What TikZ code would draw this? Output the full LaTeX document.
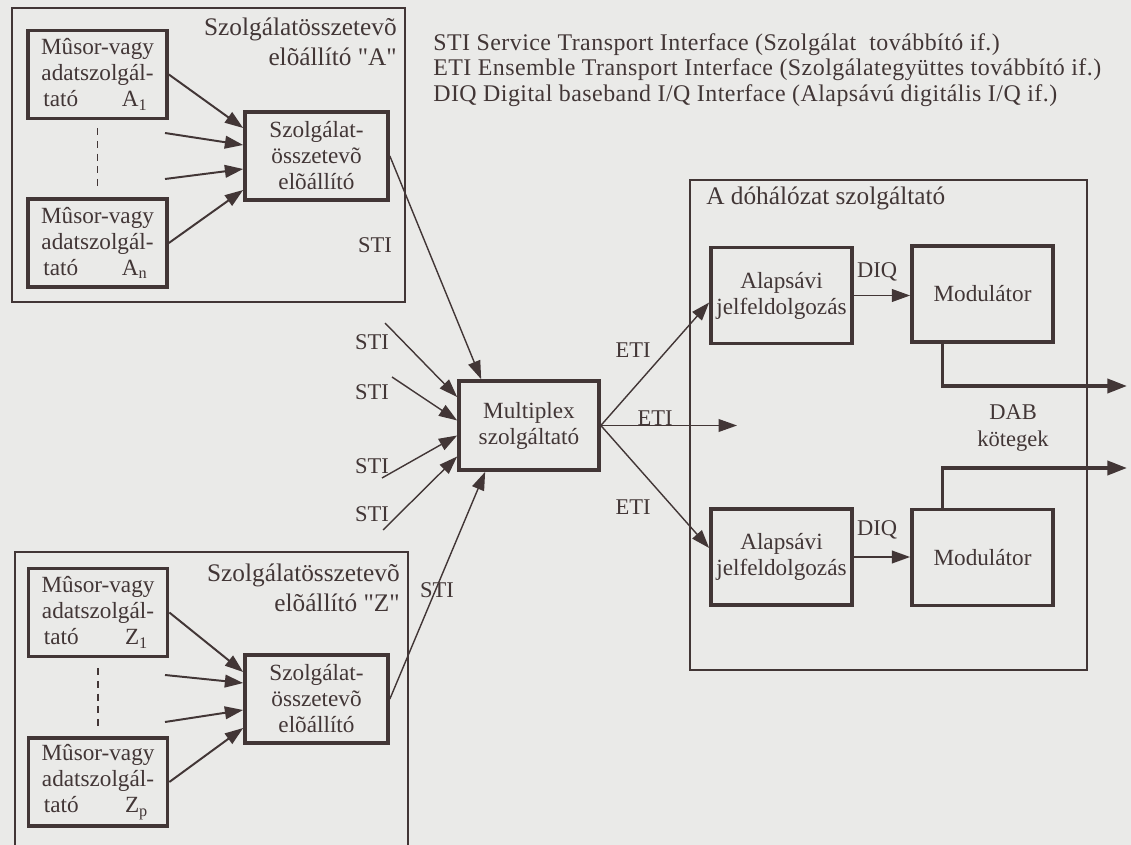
\documentclass[tikz,border=0pt]{standalone}
\usepackage{fontspec}
\setmainfont{Liberation Serif}[Ligatures=TeXOff]
\usetikzlibrary{calc,arrows.meta}
\definecolor{ink}{RGB}{66,54,54}
\definecolor{paper}{RGB}{234,234,232}

\begin{document}
\begin{tikzpicture}[x=0.025cm, y=-0.025cm,
  >={Triangle[length=13pt,width=9pt]},
  every node/.style={text=ink},
  frame/.style={draw=ink, line width=1pt},
  unit/.style={draw=ink, line width=2.6pt, align=center, inner sep=0pt,
    font=\fontsize{16.5}{18.5}\selectfont},
  source/.style={unit, minimum width=3.475cm, minimum height=2.2cm, text width=3.0cm},
  mixer/.style={unit, minimum width=3.575cm, minimum height=2.2cm},
  block/.style={unit, minimum width=3.525cm, minimum height=2.4cm},
  title/.style={inner sep=0pt, font=\fontsize{18}{21.3}\selectfont},
  lbl/.style={inner sep=0pt, font=\fontsize{16}{18.5}\selectfont},
  link/.style={->, draw=ink, line width=1.4pt},
  thin link/.style={->, draw=ink, line width=1pt},
  bus/.style={->, draw=ink, line width=2.6pt, >={Triangle[length=14pt,width=10pt]}},
  gap/.style={draw=ink, line width=1.2pt, dash pattern=on 5pt off 4pt},
]
\useasboundingbox (0,0) rectangle (1131,845);
\fill[paper] (0,0) rectangle (1131,845);

% === LEGEND ===
\node[inner sep=0pt, anchor=west, align=left,
      font=\fontsize{17}{18.3}\selectfont\addfontfeatures{LetterSpace=2}] (legend) at (433,70)
  {STI Service Transport Interface (Szolgálat\ \ továbbító if.)\\
   ETI Ensemble Transport Interface (Szolgálategyüttes továbbító if.)\\
   DIQ Digital baseband I/Q Interface (Alapsávú digitális I/Q if.)};

% ============================================================
% TOP LEFT: component producer "A"
% ============================================================
\draw[frame] (12,8) rectangle (405,302);
\node[title, anchor=east, align=right] (tA) at (397,42) {Szolgálatösszetevõ\\elõállító "A"};

\node[source] (a1) at (97.5,74.5) {Mûsor-vagy\\adatszolgál-\\\hspace*{0.15cm}tató\hfill A\textsubscript{1}\hspace*{0.25cm}};
\node[source] (an) at (97.5,243) {Mûsor-vagy\\adatszolgál-\\\hspace*{0.15cm}tató\hfill A\textsubscript{n}\hspace*{0.25cm}};
\node[mixer] (sa) at (316.5,156) {Szolgálat-\\összetevõ\\elõállító};

\coordinate (fa1) at (165,133);
\coordinate (fa2) at (165,179);
\draw[link] (a1.east) -- ($(sa.west)+(0,-28)$);
\draw[link] (fa1) -- ($(sa.west)+(0,-11)$);
\draw[link] (fa2) -- ($(sa.west)+(0,13)$);
\draw[link] (an.east) -- ($(sa.west)+(0,34)$);
\draw[gap] ($(a1.south)+(0,8)$) -- ($(an.north)+(0,-10)$);

% ============================================================
% BOTTOM LEFT: component producer "Z"
% ============================================================
\draw[frame] (15,845) |- (408,552) -- (408,845);
\node[title, anchor=east, align=right] (tZ) at (400,588) {Szolgálatösszetevõ\\elõállító "Z"};

\node[source] (z1) at (98,612.5) {Mûsor-vagy\\adatszolgál-\\\hspace*{0.15cm}tató\hfill Z\textsubscript{1}\hspace*{0.25cm}};
\node[source] (zp) at (98,782) {Mûsor-vagy\\adatszolgál-\\\hspace*{0.15cm}tató\hfill Z\textsubscript{p}\hspace*{0.25cm}};
\node[mixer] (sz) at (316.5,699) {Szolgálat-\\összetevõ\\elõállító};

\coordinate (fz1) at (165,675);
\coordinate (fz2) at (165,722);
\draw[link] (z1.east) -- ($(sz.west)+(0,-27)$);
\draw[link] (fz1) -- ($(sz.west)+(0,-16)$);
\draw[link] (fz2) -- ($(sz.west)+(0,11)$);
\draw[link] (zp.east) -- ($(sz.west)+(0,29)$);
\draw[gap] ($(z1.south)+(0,10)$) -- ($(zp.north)+(0,-8)$);

% ============================================================
% MIDDLE: multiplex
% ============================================================
\node[block, minimum width=3.5cm, minimum height=2.225cm] (mux) at (529,425.5) {Multiplex\\szolgáltató};

\draw[thin link] (sa.east) -- ($(mux.north west)+(24,0)$);
\node[lbl] (stiA) at (375,245) {STI};
\draw[thin link] (sz.east) -- ($(mux.south west)+(28,0)$);
\node[lbl] (stiZ) at (437,590) {STI};

\coordinate (s1) at (385,323);
\coordinate (s2) at (392,377);
\coordinate (s3) at (382,478);
\coordinate (s4) at (383,530);
\draw[thin link] (s1) -- ($(mux.west)+(0,-28.5)$);
\draw[thin link] (s2) -- ($(mux.west)+(0,-5)$);
\draw[thin link] (s3) -- ($(mux.west)+(0,10)$);
\draw[thin link] (s4) -- ($(mux.west)+(0,31)$);
\node[lbl] (sti1) at (372,342) {STI};
\node[lbl] (sti2) at (372,392) {STI};
\node[lbl] (sti3) at (372,466) {STI};
\node[lbl] (sti4) at (372,514) {STI};

% ============================================================
% RIGHT: transmitter network operator
% ============================================================
\draw[frame] (690,180) rectangle (1087,670);
\node[title, anchor=west] (tN) at (706,198) {A dóhálózat szolgáltató};

\node[block] (al1) at (781.5,295.5) {Alapsávi\\jelfeldolgozás};
\node[block] (mo1) at (982.5,294) {Modulátor};
\node[block] (al2) at (781.5,557) {Alapsávi\\jelfeldolgozás};
\node[block] (mo2) at (982.5,557.5) {Modulátor};

% ETI outputs of the multiplex
\coordinate (eti) at (737,425.5);
\draw[thin link] (mux.east) -- ($(al1.west)+(0,7)$);
\draw[thin link] (mux.east) -- (eti);
\draw[thin link] (mux.east) -- ($(al2.west)+(0,-9)$);
\node[lbl] (eti1) at (633,350) {ETI};
\node[lbl] (eti2) at (655,418) {ETI};
\node[lbl] (eti3) at (633,507) {ETI};

% DIQ links
\draw[link] (al1.east) -- (al1.east -| mo1.west);
\draw[link] (al2.east) -- (al2.east -| mo2.west);
\node[lbl] (diq1) at (877,272) {DIQ};
\node[lbl] (diq2) at (877,530) {DIQ};

% DAB ensembles out
\coordinate (out1) at (1127,386);
\coordinate (out2) at (1127,468);
\draw[bus] ($(mo1.south)+(-40,0)$) |- (out1);
\draw[bus] ($(mo2.north)+(-40,0)$) |- (out2);
\node[lbl, align=center] (dab) at (1013,428) {DAB\\kötegek};

\end{tikzpicture}
\end{document}
